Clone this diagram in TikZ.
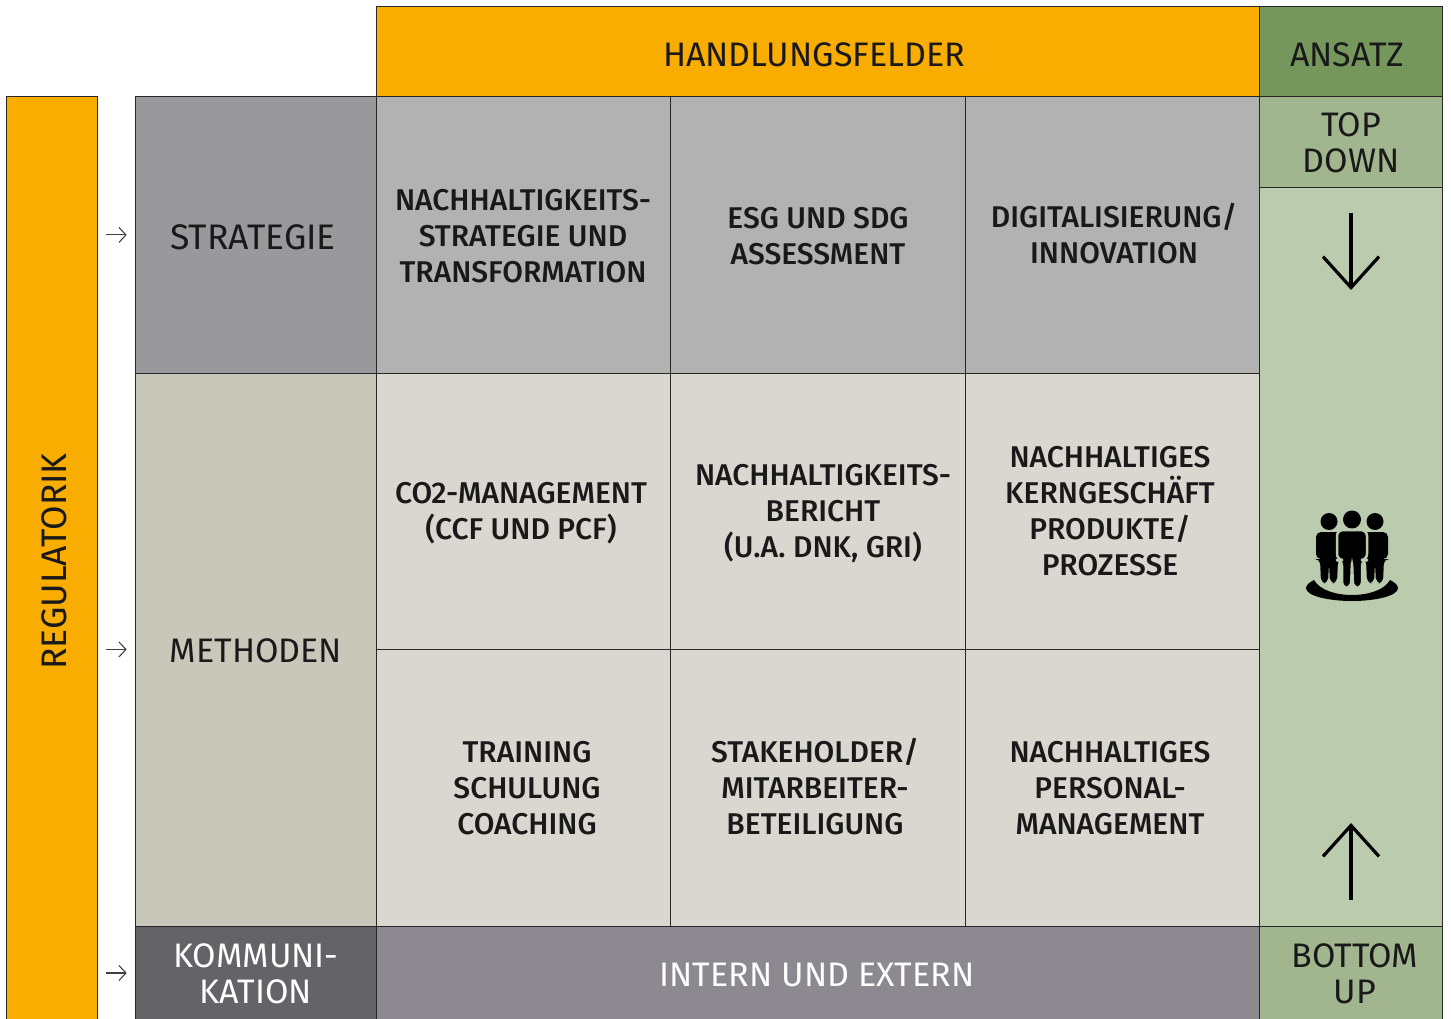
\documentclass[tikz,border=0pt]{standalone}
\usepackage{fontspec}
\setmainfont{Fira Sans}[BoldFont={Fira Sans Medium}]
\usetikzlibrary{arrows.meta}
\definecolor{orangebar}{HTML}{F9AD00}
\definecolor{graystrategie}{HTML}{99999B}
\definecolor{graycell}{HTML}{B2B2B2}
\definecolor{sandmethoden}{HTML}{C9C6BA}
\definecolor{sandcell}{HTML}{D9D7CF}
\definecolor{graykomm}{HTML}{636368}
\definecolor{grayintern}{HTML}{8C8A90}
\definecolor{greendark}{HTML}{75975C}
\definecolor{greenmid}{HTML}{A1B68F}
\definecolor{greenpanel}{HTML}{BACBAE}
\tikzset{
	box/.style={draw=black!85, line width=0.9pt, inner sep=0pt, anchor=north west},
	headtext/.style={font=\fontsize{34}{36}\selectfont, align=center, text=black!90},
	widetext/.style={font=\fontsize{35.5}{36}\selectfont, align=center, text=black!90},
	celltext/.style={font=\fontsize{30}{36}\selectfont\bfseries, align=center, text=black!90},
	smallarrow/.style={draw=black!75, line width=1.1pt, -{Straight Barb[length=7pt,width=15pt]}, shorten <=8pt, shorten >=8pt},
	bigarrow/.style={line width=3.2pt, -{Straight Barb[length=31pt,width=56pt]}},
	personbody/.style={fill=black, rounded corners=5},
}
\def\boxat#1#2#3#4#5#6{\node[box, fill=#1, minimum width=#5pt, minimum height=#6pt] (#2) at (#3-1.3,#4-0.5) {};}
\def\sideperson#1{
	\fill (#1, 521.5) circle (8.5);
	\path[personbody] (#1-13, 559) -- (#1-13, 532) -- (#1+13, 532) -- (#1+13, 559) -- (#1+9, 559) -- (#1+8, 583) -- (#1+1, 583) -- (#1, 563) -- (#1-1, 583) -- (#1-8, 583) -- (#1-9, 559) -- cycle;
}

\begin{document}
\begin{tikzpicture}[x=1pt, y=-1pt]
			%%%%% START %%%%%
			\useasboundingbox (0, 0) rectangle (1451, 1019);
			
			\boxat{orangebar}{regulatorik}{7}{97}{91}{930}
			\boxat{orangebar}{handlungsfelder}{377}{7}{883}{90}
			\boxat{greendark}{ansatz}{1260}{7}{183}{90}
			
			\boxat{graystrategie}{strategie}{136}{97}{241}{276}
			\boxat{sandmethoden}{methoden}{136}{373}{241}{553}
			\boxat{graykomm}{kommunikation}{136}{926}{241}{100}
			\boxat{grayintern}{intern}{377}{926}{883}{100}
			
			\boxat{graycell}{cellA}{377}{97}{294}{276}
			\boxat{graycell}{cellB}{671}{97}{295}{276}
			\boxat{graycell}{cellC}{966}{97}{294}{276}
			\boxat{sandcell}{cellD}{377}{373}{294}{276}
			\boxat{sandcell}{cellE}{671}{373}{295}{276}
			\boxat{sandcell}{cellF}{966}{373}{294}{276}
			\boxat{sandcell}{cellG}{377}{649}{294}{277}
			\boxat{sandcell}{cellH}{671}{649}{295}{277}
			\boxat{sandcell}{cellI}{966}{649}{294}{277}
			
			\boxat{greenpanel}{panel}{1260}{188}{183}{738}
			\boxat{greenmid}{topdown}{1260}{97}{183}{91}
			\boxat{greenmid}{bottomup}{1260}{926}{183}{100}
			
			\node[widetext, rotate=90] (regulatoriktext) at (54, 561.5) {REGULATORIK};
			\node[headtext] (handlungstext) at (814, 54.5) {HANDLUNGSFELDER};
			\node[headtext] (ansatztext) at (1347, 54.5) {ANSATZ};
			\node[headtext] (topdowntext) at (1351, 143) {TOP\\DOWN};
			\node[headtext] (bottomuptext) at (1355, 974) {BOTTOM\\UP};
			\node[widetext] (strategietext) at (253, 237) {STRATEGIE};
			\node[headtext] (methodentext) at (256, 651) {METHODEN};
			\node[headtext, text=white] (kommtext) at (256, 974) {KOMMUNI-\\KATION};
			\node[headtext, text=white] (interntext) at (817, 974.5) {INTERN UND EXTERN};
			
			\node[celltext] (textA) at (523, 236) {NACHHALTIGKEITS-\\STRATEGIE UND\\TRANSFORMATION};
			\node[celltext] (textB) at (818, 236) {ESG UND SDG\\ASSESSMENT};
			\node[celltext] (textC) at (1114, 234) {DIGITALISIERUNG/\\INNOVATION};
			\node[celltext] (textD) at (521, 513.5) {CO2-MANAGEMENT\\(CCF UND PCF)};
			\node[celltext] (textE) at (823, 513.5) {NACHHALTIGKEITS-\\BERICHT\\(U.A. DNK, GRI)};
			\node[celltext] (textF) at (1110, 511) {NACHHALTIGES\\KERNGESCHÄFT\\PRODUKTE/\\PROZESSE};
			\node[celltext] (textG) at (527, 788) {TRAINING\\SCHULUNG\\COACHING};
			\node[celltext] (textH) at (815, 787) {STAKEHOLDER/\\MITARBEITER-\\BETEILIGUNG};
			\node[celltext] (textI) at (1110, 788) {NACHHALTIGES\\PERSONAL-\\MANAGEMENT};
			
			% small arrows
			\draw[smallarrow] (regulatorik.east |- strategie.center) -- (strategie.west);
			\draw[smallarrow] (regulatorik.east |- methoden.center) -- (methoden.west);
			\draw[smallarrow] (regulatorik.east |- 0, 973) -- (kommunikation.west |- 0, 973);
			
			% big arrows
			\coordinate (downstart) at (1351, 213);
			\coordinate (downend) at (1351, 290);
			\coordinate (upstart) at (1351, 900);
			\coordinate (upend) at (1351, 823);
			\draw[bigarrow] (downstart) -- (downend);
			\draw[bigarrow] (upstart) -- (upend);
			
			% people
			\sideperson{1329}
			\sideperson{1375}
			\fill (1352, 519.5) circle (9);
			\path[personbody, draw=greenpanel, line width=2.5pt, rounded corners=6] (1337, 560) -- (1337, 530) -- (1367, 530) -- (1367, 560) -- (1362, 560) -- (1362, 588) -- (1353, 588) -- (1352, 561) -- (1351, 588) -- (1342, 588) -- (1342, 560) -- cycle;
			\fill (1306, 588) .. controls (1306, 585) and (1310, 582) .. (1314, 580) .. controls (1325, 600) and (1379, 600) .. (1390, 580) .. controls (1394, 582) and (1398, 585) .. (1398, 588) .. controls (1398, 596) and (1375, 601) .. (1352, 601) .. controls (1329, 601) and (1306, 596) .. (1306, 588) -- cycle;
			%%%%% END %%%%%
		\end{tikzpicture}
\end{document}
